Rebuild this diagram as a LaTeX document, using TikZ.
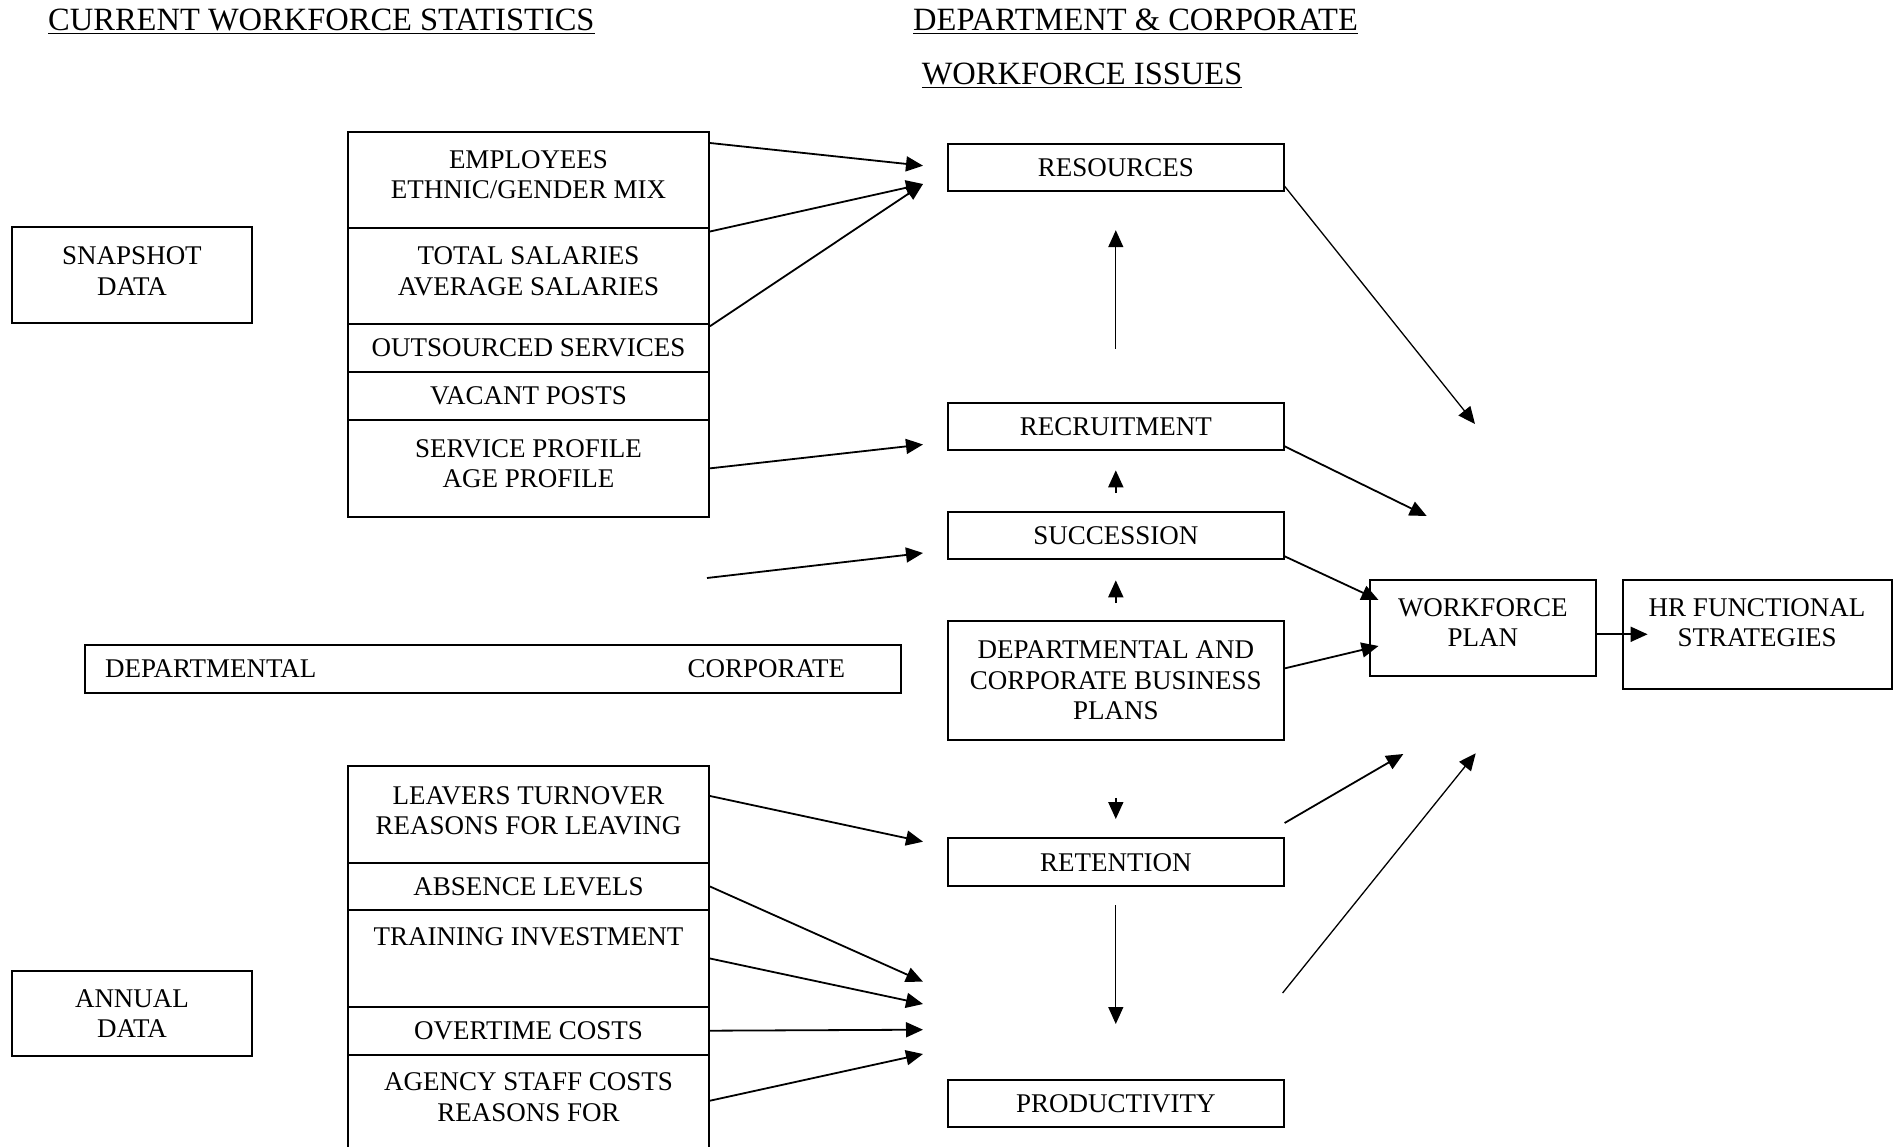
\documentclass[tikz,border=0pt]{standalone}
\usepackage{fontspec}
\setmainfont{Liberation Serif}
\usetikzlibrary{arrows.meta}

\begin{document}
\begin{tikzpicture}[x=1pt, y=-1pt, font=\fontsize{27}{30.6}\selectfont,
  box/.style 2 args={draw, line width=2pt, anchor=north west, align=center,
                     inner sep=0pt, minimum width=#1, minimum height=#2},
  tdepth/.style 2 args={text height=#1, text depth=#2},
  title/.style={anchor=base west, inner sep=0pt, font=\fontsize{32.5}{38}\selectfont},
  arr/.style={->, >={Triangle[length=17pt, width=15pt]}, line width=1.8pt},
  arrlong/.style={arr, line width=1.3pt}
]
  \clip (0,0) rectangle (1899,1147);
  % Titres
  \node[title] (hstats)  at (48,31)    {\underline{CURRENT WORKFORCE STATISTICS}};
  \node[title] (hdept)   at (913,31)   {\underline{DEPARTMENT \& CORPORATE}};
  \node[title] (hissues) at (921.6,85) {\underline{WORKFORCE ISSUES}};
  % Types de donnees
  \node[box={240pt}{96pt}, tdepth={48.6pt}{9.4pt}] (snap)   at (11,226.5) {SNAPSHOT\\DATA};
  \node[box={240pt}{85pt}, tdepth={48.6pt}{0.4pt}] (annual) at (11,970)   {ANNUAL\\DATA};
  % Statistiques instantanees
  \node[box={361pt}{96pt}, tdepth={48.6pt}{11.8pt}]  (emp)  at (347,131.5) {EMPLOYEES\\ETHNIC/GENDER MIX};
  \node[box={361pt}{95.2pt}, tdepth={48.6pt}{9.6pt}] (sal)  at (347,227.5) {TOTAL SALARIES\\AVERAGE SALARIES};
  \node[box={361pt}{48pt}]                           (outs) at (347,322.7) {OUTSOURCED SERVICES};
  \node[box={361pt}{48.3pt}]                         (vac)  at (347,370.7) {VACANT POSTS};
  \node[box={361pt}{96.7pt}, tdepth={48.6pt}{9.5pt}] (prof) at (347,419)   {SERVICE PROFILE\\AGE PROFILE};
  % Statistiques annuelles
  \node[box={361pt}{96.7pt}, tdepth={48.6pt}{8.1pt}] (leav)   at (347,765)    {LEAVERS TURNOVER\\REASONS FOR LEAVING};
  \node[box={361pt}{47.6pt}]                         (absn)   at (347,861.7)  {ABSENCE LEVELS};
  \node[box={361pt}{96.4pt}, tdepth={18pt}{43.6pt}]  (train)  at (347,909.3)  {TRAINING INVESTMENT};
  \node[box={361pt}{48pt}]                           (over)   at (347,1005.7) {OVERTIME COSTS};
  \node[box={361pt}{126pt}, tdepth={48.6pt}{41.4pt}] (agency) at (347,1053.7) {AGENCY STAFF COSTS\\REASONS FOR};
  % Departemental / corporate
  \node[box={816pt}{47.2pt}, align=left, text width=775pt, inner xsep=20.5pt] (deptcorp)
        at (83.6,644.3) {DEPARTMENTAL\hfill CORPORATE\hspace{35pt}\null};
  % Enjeux
  \node[box={335.6pt}{47.2pt}]  (res)   at (947,143)  {RESOURCES};
  \node[box={335.6pt}{47.3pt}]  (recr)  at (947,402)  {RECRUITMENT};
  \node[box={335.6pt}{47.3pt}]  (succ)  at (947,511)  {SUCCESSION};
  \node[box={335.6pt}{118.8pt}] (plans) at (947,620)  {DEPARTMENTAL AND\\CORPORATE BUSINESS\\PLANS};
  \node[box={335.6pt}{48.4pt}]  (ret)   at (947,837)  {RETENTION};
  \node[box={335.6pt}{47.3pt}]  (prod)  at (947,1079) {PRODUCTIVITY};
  % Plan
  \node[box={226.5pt}{95.6pt}, tdepth={48.6pt}{11pt}] (wfp)  at (1368.5,579) {WORKFORCE\\PLAN};
  \node[box={269pt}{109pt}, tdepth={48.6pt}{24.4pt}]  (hrfs) at (1621.6,579) {HR FUNCTIONAL\\STRATEGIES};
  % Extremites libres
  \coordinate (resin)    at (923,165.7);
  \coordinate (resin2)   at (923,184);
  \coordinate (recrin)   at (923,444.5);
  \coordinate (succfrom) at (707,578);
  \coordinate (succin)   at (923,553);
  \coordinate (retin)    at (923,841.7);
  \coordinate (prodin1)  at (923,981.7);
  \coordinate (prodin2)  at (923,1004);
  \coordinate (prodin3)  at (923,1029.7);
  \coordinate (prodin4)  at (923,1054);
  \coordinate (prodfrom) at (1282.6,993);
  \coordinate (wfpin1)   at (1475,424);
  \coordinate (wfpin2)   at (1426.7,516);
  \coordinate (wfpin3)   at (1403.3,754);
  \coordinate (wfpin4)   at (1475.7,753.3);
  % Fleches
  \draw[arr] ([yshift=-11.5pt]emp.north east) -- (resin);
  \draw[arr] ([yshift=-4pt]sal.north east) -- (resin2);
  \draw[arr] ([yshift=-3.5pt]outs.north east) -- (resin2);
  \draw[arr] (prof.east) -- (recrin);
  \draw[arr] (succfrom) -- (succin);
  \draw[arr] ([yshift=-31pt]leav.north east) -- (retin);
  \draw[arr] (absn.east) -- (prodin1);
  \draw[arr] (train.east) -- (prodin2);
  \draw[arr] (over.east) -- (prodin3);
  \draw[arr] ([yshift=-47pt]agency.north east) -- (prodin4);
  \draw[arrlong] ([yshift=53pt]recr.north) -- ([yshift=-38pt]res.south);
  \draw[arr] ([yshift=18pt]succ.north) -- ([yshift=-19pt]recr.south);
  \draw[arr] ([yshift=17pt]plans.north) -- ([yshift=-20pt]succ.south);
  \draw[arr] ([yshift=-57pt]plans.south) -- ([yshift=18pt]ret.north);
  \draw[arrlong] ([yshift=-18pt]ret.south) -- ([yshift=55pt]prod.north);
  \draw[arrlong] ([yshift=6pt]res.south east) -- (wfpin1);
  \draw[arr] ([yshift=5pt]recr.south east) -- (wfpin2);
  \draw[arr] ([yshift=4pt]succ.south east) -- ([shift={(10pt,-21pt)}]wfp.north west);
  \draw[arr] ([yshift=12pt]plans.east) -- ([shift={(10pt,-67pt)}]wfp.north west);
  \draw[arr] ([yshift=-6.5pt]wfp.east) -- ([shift={(26pt,-55.3pt)}]hrfs.north west);
  \draw[arr] ([yshift=14pt]ret.north east) -- (wfpin3);
  \draw[arrlong] (prodfrom) -- (wfpin4);
\end{tikzpicture}
\end{document}
